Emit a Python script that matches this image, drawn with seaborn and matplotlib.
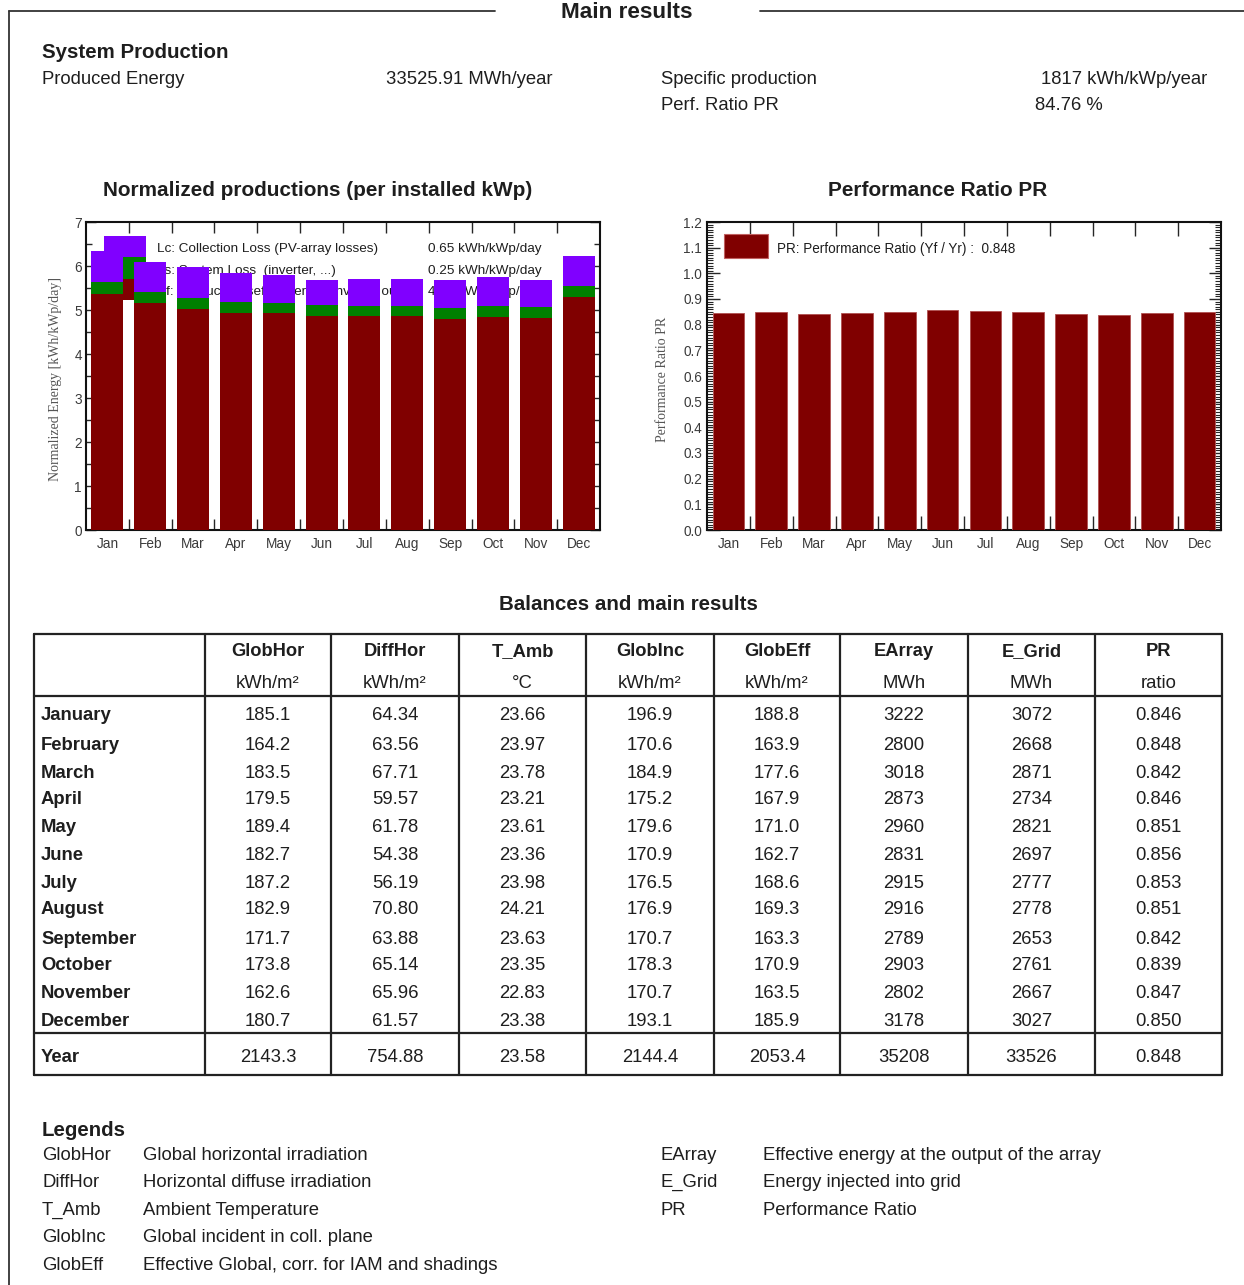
import numpy as np
import pandas as pd
import matplotlib
matplotlib.use("Agg")
import matplotlib.pyplot as plt
from matplotlib.patches import Rectangle
from matplotlib.ticker import MultipleLocator, FixedLocator, FormatStrFormatter
import seaborn as sns

# ---------------------------------------------------------------- data
months_short = ["Jan", "Feb", "Mar", "Apr", "May", "Jun",
                "Jul", "Aug", "Sep", "Oct", "Nov", "Dec"]
months_long = ["January", "February", "March", "April", "May", "June",
               "July", "August", "September", "October", "November", "December"]

# normalized productions, kWh/kWp/day
yf_useful = [5.37, 5.16, 5.02, 4.94, 4.93, 4.87, 4.86, 4.86, 4.79, 4.83, 4.82, 5.29]
ls_system = [0.26, 0.26, 0.26, 0.25, 0.24, 0.24, 0.24, 0.24, 0.25, 0.25, 0.24, 0.26]
lc_collection = [0.72, 0.67, 0.69, 0.65, 0.62, 0.58, 0.60, 0.61, 0.65, 0.68, 0.63, 0.67]

# balances table
glob_hor = [185.1, 164.2, 183.5, 179.5, 189.4, 182.7, 187.2, 182.9, 171.7, 173.8, 162.6, 180.7]
diff_hor = [64.34, 63.56, 67.71, 59.57, 61.78, 54.38, 56.19, 70.80, 63.88, 65.14, 65.96, 61.57]
t_amb = [23.66, 23.97, 23.78, 23.21, 23.61, 23.36, 23.98, 24.21, 23.63, 23.35, 22.83, 23.38]
glob_inc = [196.9, 170.6, 184.9, 175.2, 179.6, 170.9, 176.5, 176.9, 170.7, 178.3, 170.7, 193.1]
glob_eff = [188.8, 163.9, 177.6, 167.9, 171.0, 162.7, 168.6, 169.3, 163.3, 170.9, 163.5, 185.9]
e_array = [3222, 2800, 3018, 2873, 2960, 2831, 2915, 2916, 2789, 2903, 2802, 3178]
e_grid = [3072, 2668, 2871, 2734, 2821, 2697, 2777, 2778, 2653, 2761, 2667, 3027]
pr_ratio = [0.846, 0.848, 0.842, 0.846, 0.851, 0.856, 0.853, 0.851, 0.842, 0.839, 0.847, 0.850]
year_totals = [2143.3, 754.88, 23.58, 2144.4, 2053.4, 35208, 33526, 0.848]

col_names = ["GlobHor", "DiffHor", "T_Amb", "GlobInc", "GlobEff", "EArray", "E_Grid", "PR"]
col_units = ["kWh/m\u00b2", "kWh/m\u00b2", "\u00b0C", "kWh/m\u00b2", "kWh/m\u00b2", "MWh", "MWh", "ratio"]
col_formats = ["{:.1f}", "{:.2f}", "{:.2f}", "{:.1f}", "{:.1f}", "{:.0f}", "{:.0f}", "{:.3f}"]

legend_left = [("GlobHor", "Global horizontal irradiation"),
               ("DiffHor", "Horizontal diffuse irradiation"),
               ("T_Amb", "Ambient Temperature"),
               ("GlobInc", "Global incident in coll. plane"),
               ("GlobEff", "Effective Global, corr. for IAM and shadings")]
legend_right = [("EArray", "Effective energy at the output of the array"),
                ("E_Grid", "Energy injected into grid"),
                ("PR", "Performance Ratio")]

# ---------------------------------------------------------------- style
sns.set_style("white")
plt.rcParams["font.family"] = ["Liberation Sans", "DejaVu Sans"]
plt.rcParams["axes.linewidth"] = 1.5

INK = "#1e1e1e"
TICK_INK = "#3a3a3a"
MAROON = "#800000"
GREEN = "#008000"
VIOLET = "#8000ff"
TXT = 13.3

W, H = 1244, 1285
fig = plt.figure(figsize=(W / 100, H / 100), dpi=100)

# page layer in pixel coordinates for text and rules
page = fig.add_axes([0, 0, 1, 1], zorder=0)
page.set_xlim(0, W)
page.set_ylim(H, 0)
page.axis("off")


def ptext(x, y, s, size=TXT, weight="normal", ha="left", color=INK):
    page.text(x, y + 2, s, fontsize=size, fontweight=weight, ha=ha, va="center", color=color)


def rect_px(x0, y0, x1, y1):
    return [x0 / W, 1 - y1 / H, (x1 - x0) / W, (y1 - y0) / H]


# frame around the section
page.plot([9, 495], [11, 11], color="#333333", lw=1.3)
page.plot([760, W], [11, 11], color="#333333", lw=1.3)
page.plot([9, 9], [11, H], color="#333333", lw=1.3)
ptext(627, 10, "Main results", size=16.2, weight="bold", ha="center")

ptext(42, 51, "System Production", size=14.8, weight="bold")
ptext(42, 77, "Produced Energy")
ptext(386, 77, "33525.91 MWh/year")
ptext(661, 77, "Specific production")
ptext(1041, 77, "1817 kWh/kWp/year")
ptext(661, 104, "Perf. Ratio PR")
ptext(1035, 104, "84.76 %")

ptext(318, 189, "Normalized productions (per installed kWp)", size=14.95, weight="bold", ha="center")
ptext(938, 189, "Performance Ratio PR", size=14.95, weight="bold", ha="center")

# ---------------------------------------------------------------- normalized productions
df = pd.DataFrame({"month": months_short, "yf": yf_useful, "ls": ls_system, "lc": lc_collection})
df["yf_ls"] = df["yf"] + df["ls"]
df["total"] = df["yf_ls"] + df["lc"]

ax1 = fig.add_axes(rect_px(86, 222, 600, 530), zorder=2)
ax1.patch.set_alpha(0)
for col, colr in [("total", VIOLET), ("yf_ls", GREEN), ("yf", MAROON)]:
    sns.barplot(data=df, x="month", y=col, color=colr, saturation=1, width=0.75,
                errorbar=None, ax=ax1, zorder=3, linewidth=0)

# legend sits underneath the bars
key_rows = [(VIOLET, "Lc: Collection Loss (PV-array losses)", "0.65 kWh/kWp/day"),
            (GREEN, "Ls: System Loss  (inverter, ...)", "0.25 kWh/kWp/day"),
            (MAROON, "Yf: Produced useful energy  (inverter output)", "4.98 kWh/kWp/day")]
y_top = 0.9545
step = 0.069
for i, (colr, lab, val) in enumerate(key_rows):
    y0 = y_top - (i + 1) * step
    ax1.add_patch(Rectangle((0.035, y0), 0.082, step, transform=ax1.transAxes,
                            facecolor=colr, edgecolor="none", zorder=1))
    ax1.text(0.138, y0 + step / 2 - 0.009, lab, transform=ax1.transAxes, fontsize=9.7,
             va="center", ha="left", color=INK, zorder=1)
    ax1.text(0.666, y0 + step / 2 - 0.009, val, transform=ax1.transAxes, fontsize=9.7,
             va="center", ha="left", color=INK, zorder=1)

ax1.set_ylim(0, 7)
ax1.set_xlim(-0.5, 11.5)
ax1.yaxis.set_major_locator(MultipleLocator(1))
ax1.yaxis.set_minor_locator(MultipleLocator(0.5))
ax1.xaxis.set_minor_locator(FixedLocator(np.arange(0.5, 11, 1)))
ax1.set_xlabel("")
ax1.set_ylabel("Normalized Energy [kWh/kWp/day]", family="Liberation Serif",
               fontsize=10, color="#555555")
ax1.yaxis.set_label_coords(-0.047, 0.49)
ax1.tick_params(axis="y", which="major", direction="in", left=True, right=True,
                length=7, width=1, labelsize=9.8, labelcolor=TICK_INK, pad=3)
ax1.tick_params(axis="y", which="minor", direction="in", left=True, right=True,
                length=4, width=1)
ax1.tick_params(axis="x", which="major", length=0, labelsize=9.8, labelcolor=TICK_INK, pad=5)
ax1.tick_params(axis="x", which="minor", direction="in", bottom=True, top=True,
                length=8, width=1)
for s in ax1.spines.values():
    s.set_visible(True)
    s.set_color("#111111")
    s.set_linewidth(1.5)

# ---------------------------------------------------------------- performance ratio
pr_df = pd.DataFrame({"month": months_short, "pr": pr_ratio})
ax2 = fig.add_axes(rect_px(707, 222, 1221, 530), zorder=2)
sns.barplot(data=pr_df, x="month", y="pr", color=MAROON, saturation=1, width=0.74,
            errorbar=None, ax=ax2, zorder=3, edgecolor="#b05050", linewidth=0.6)
ax2.add_patch(Rectangle((0.033, 0.883), 0.086, 0.078, transform=ax2.transAxes,
                        facecolor=MAROON, edgecolor="#c06060", linewidth=0.8, zorder=4))
ax2.text(0.136, 0.913, "PR: Performance Ratio (Yf / Yr) :  0.848", transform=ax2.transAxes,
         fontsize=9.75, va="center", ha="left", color=INK, zorder=4)
ax2.set_ylim(0, 1.2)
ax2.set_xlim(-0.5, 11.5)
ax2.yaxis.set_major_locator(MultipleLocator(0.1))
ax2.yaxis.set_minor_locator(MultipleLocator(0.01))
ax2.yaxis.set_major_formatter(FormatStrFormatter("%.1f"))
ax2.xaxis.set_minor_locator(FixedLocator(np.arange(0.5, 11, 1)))
ax2.set_xlabel("")
ax2.set_ylabel("Performance Ratio PR", family="Liberation Serif", fontsize=10, color="#555555")
ax2.yaxis.set_label_coords(-0.074, 0.49)
ax2.tick_params(axis="y", which="major", direction="in", left=True, right=True,
                length=9, width=1, labelsize=9.8, labelcolor=TICK_INK, pad=3.5)
ax2.tick_params(axis="y", which="minor", direction="in", left=True, right=True,
                length=4, width=0.8)
ax2.tick_params(axis="x", which="major", length=0, labelsize=9.8, labelcolor=TICK_INK, pad=5)
ax2.tick_params(axis="x", which="minor", direction="in", bottom=True, top=True,
                length=10, width=1)
for s in ax2.spines.values():
    s.set_visible(True)
    s.set_color("#111111")
    s.set_linewidth(1.5)

# ---------------------------------------------------------------- balances table
ptext(628, 602, "Balances and main results", size=14.8, weight="bold", ha="center")

col_edges = [34, 205, 331, 459, 586, 714, 840, 968, 1095, 1222]
t_top, t_head, t_year, t_bot = 634, 696, 1033, 1075
rule = dict(color="#222222", lw=1.6)
for y in (t_top, t_head, t_year, t_bot):
    page.plot([col_edges[0], col_edges[-1]], [y, y], **rule)
for x in col_edges:
    page.plot([x, x], [t_top, t_bot], **rule)

centers = [(a + b) / 2 for a, b in zip(col_edges[1:-1], col_edges[2:])]
for cx, name, unit in zip(centers, col_names, col_units):
    ptext(cx, 650, name, size=13.2, weight="bold", ha="center")
    ptext(cx, 681, unit, ha="center")

columns = [glob_hor, diff_hor, t_amb, glob_inc, glob_eff, e_array, e_grid, pr_ratio]
row_y = [713, 743, 771, 798, 826, 854, 881, 908, 937, 964, 992, 1020]
for r, month in enumerate(months_long):
    y = row_y[r]
    ptext(41, y, month, size=13.3, weight="bold")
    for cx, col, fmt in zip(centers, columns, col_formats):
        ptext(cx, y, fmt.format(col[r]), ha="center")

ptext(41, 1055, "Year", size=13.3, weight="bold")
for cx, val, fmt in zip(centers, year_totals, col_formats):
    ptext(cx, 1055, fmt.format(val), ha="center")

# ---------------------------------------------------------------- legends
ptext(42, 1128, "Legends", size=14.7, weight="bold")
for i, (k, d) in enumerate(legend_left):
    y = 1153 + 27.6 * i
    ptext(42, y, k)
    ptext(143, y, d)
for i, (k, d) in enumerate(legend_right):
    y = 1153 + 27.6 * i
    ptext(661, y, k)
    ptext(763, y, d)

fig.savefig("out.png", dpi=100)
